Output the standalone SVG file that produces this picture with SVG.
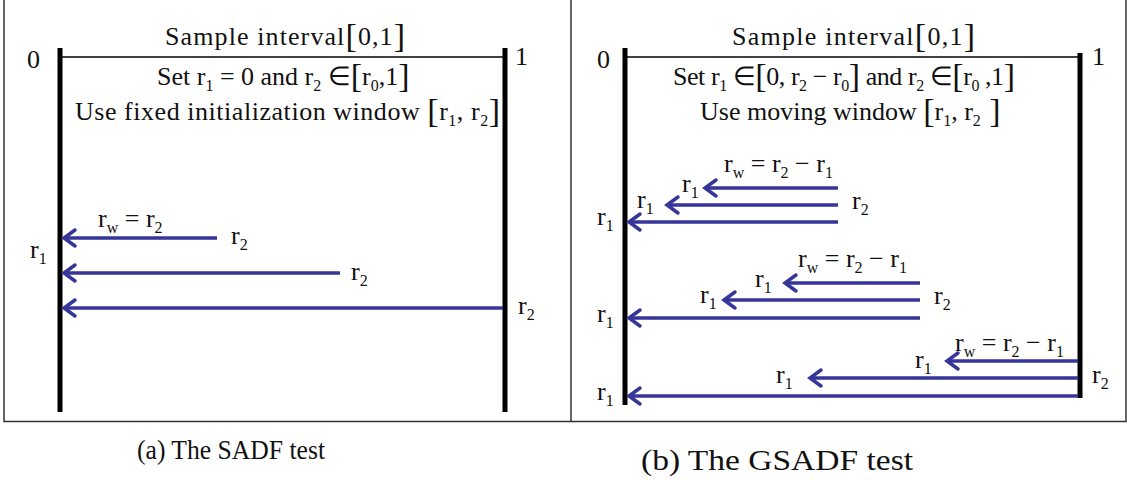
<svg xmlns="http://www.w3.org/2000/svg" width="1127" height="480" viewBox="0 0 1127 480">
<defs>
<style>
.t{font-family:"Liberation Serif","Times New Roman",serif;font-size:26px;fill:#111}
.s{font-size:16px}
.b{font-size:34px;font-weight:300}
.cap{font-family:"Liberation Serif","Times New Roman",serif;fill:#111}
.bar{stroke:#000;stroke-width:5;fill:none}
.axis{stroke:#000;stroke-width:1.5;fill:none}
.frame{stroke:#333;stroke-width:1.5;fill:none}
.arr{stroke:#35359a;stroke-width:3.5;fill:none;marker-end:url(#ah)}
</style>
<marker id="ah" markerUnits="userSpaceOnUse" markerWidth="24" markerHeight="24" viewBox="-18 -12 24 24" refX="0" refY="0" orient="auto" overflow="visible">
<path d="M-11,-8 L0,0 L-11,8" fill="none" stroke="#35359a" stroke-width="3.5" stroke-linejoin="miter" stroke-linecap="round"/>
</marker>
</defs>
<g id="frame">
<path class="frame" d="M4,0 V421.5 H1126 V0 M571,0 V421.5"/>
</g>
<g id="panel-a">
<g id="a-axis">
<line class="axis" x1="60" y1="57" x2="505" y2="57"/>
<line class="bar" x1="60" y1="48" x2="60" y2="412"/>
<line class="bar" x1="505" y1="48" x2="505" y2="412"/>
<text class="t" x="27" y="68">0</text>
<text class="t" x="515" y="65">1</text>
</g>
<g id="a-title"><text class="t" x="165" y="45" textLength="240" lengthAdjust="spacing">Sample interval<tspan class="b" dy="2">[</tspan><tspan dy="-2">0,1</tspan><tspan class="b" dy="2">]</tspan></text></g>
<g id="a-set"><text class="t" x="157" y="85">Set r<tspan class="s" dy="6">1</tspan><tspan dy="-6"> = 0  and r</tspan><tspan class="s" dy="6">2</tspan><tspan dy="-6"> ∈</tspan><tspan class="b" dy="2">[</tspan><tspan dy="-2">r</tspan><tspan class="s" dy="6">0</tspan><tspan dy="-6">,1</tspan><tspan class="b" dy="2">]</tspan></text></g>
<g id="a-use"><text class="t" x="75" y="120" textLength="425" lengthAdjust="spacing">Use fixed initialization window <tspan class="b" dy="2">[</tspan><tspan dy="-2">r</tspan><tspan class="s" dy="6">1</tspan><tspan dy="-6">, r</tspan><tspan class="s" dy="6">2</tspan><tspan class="b" dy="-4">]</tspan></text></g>
<g id="a-labels">
<text class="t" x="98" y="227">r<tspan class="s" dy="6">w</tspan><tspan dy="-6"> = r</tspan><tspan class="s" dy="6">2</tspan></text>
<text class="t" x="231" y="244">r<tspan class="s" dy="6">2</tspan></text>
<text class="t" x="30" y="258">r<tspan class="s" dy="6">1</tspan></text>
<text class="t" x="351" y="280">r<tspan class="s" dy="6">2</tspan></text>
<text class="t" x="518" y="314">r<tspan class="s" dy="6">2</tspan></text>
</g>
</g>
<g id="panel-b">
<g id="b-axis">
<line class="axis" x1="625" y1="57" x2="1080" y2="57"/>
<line class="bar" x1="625" y1="48" x2="625" y2="405"/>
<line class="bar" x1="1080" y1="53" x2="1080" y2="398"/>
<text class="t" x="597" y="68">0</text>
<text class="t" x="1092" y="65">1</text>
</g>
<g id="b-title"><text class="t" x="732" y="45" textLength="243" lengthAdjust="spacing">Sample interval<tspan class="b" dy="2">[</tspan><tspan dy="-2">0,1</tspan><tspan class="b" dy="2">]</tspan></text></g>
<g id="b-set"><text class="t" x="673" y="85" textLength="342" lengthAdjust="spacing">Set r<tspan class="s" dy="6">1</tspan><tspan dy="-6"> ∈</tspan><tspan class="b" dy="2">[</tspan><tspan dy="-2">0, r</tspan><tspan class="s" dy="6">2</tspan><tspan dy="-6"> − r</tspan><tspan class="s" dy="6">0</tspan><tspan class="b" dy="-4">]</tspan><tspan dy="-2"> and r</tspan><tspan class="s" dy="6">2</tspan><tspan dy="-6"> ∈</tspan><tspan class="b" dy="2">[</tspan><tspan dy="-2">r</tspan><tspan class="s" dy="6">0</tspan><tspan dy="-6"> ,1</tspan><tspan class="b" dy="2">]</tspan></text></g>
<g id="b-use"><text class="t" x="700" y="120">Use moving window <tspan class="b" dy="2">[</tspan><tspan dy="-2">r</tspan><tspan class="s" dy="6">1</tspan><tspan dy="-6">, r</tspan><tspan class="s" dy="6">2</tspan><tspan class="b" dy="-4"> ]</tspan></text></g>
<g id="b-group1">
<text class="t" x="724" y="172">r<tspan class="s" dy="6">w</tspan><tspan dy="-6"> = r</tspan><tspan class="s" dy="6">2</tspan><tspan dy="-6"> − r</tspan><tspan class="s" dy="6">1</tspan></text>
<text class="t" x="682" y="192">r<tspan class="s" dy="6">1</tspan></text>
<text class="t" x="637" y="208">r<tspan class="s" dy="6">1</tspan></text>
<text class="t" x="852" y="209">r<tspan class="s" dy="6">2</tspan></text>
<text class="t" x="597" y="225">r<tspan class="s" dy="6">1</tspan></text>
</g>
<g id="b-group2">
<text class="t" x="798" y="267">r<tspan class="s" dy="6">w</tspan><tspan dy="-6"> = r</tspan><tspan class="s" dy="6">2</tspan><tspan dy="-6"> − r</tspan><tspan class="s" dy="6">1</tspan></text>
<text class="t" x="755" y="287">r<tspan class="s" dy="6">1</tspan></text>
<text class="t" x="700" y="303">r<tspan class="s" dy="6">1</tspan></text>
<text class="t" x="934" y="304">r<tspan class="s" dy="6">2</tspan></text>
<text class="t" x="597" y="322">r<tspan class="s" dy="6">1</tspan></text>
</g>
<g id="b-group3">
<text class="t" x="955" y="351">r<tspan class="s" dy="6">w</tspan><tspan dy="-6"> = r</tspan><tspan class="s" dy="6">2</tspan><tspan dy="-6"> − r</tspan><tspan class="s" dy="6">1</tspan></text>
<text class="t" x="915" y="368">r<tspan class="s" dy="6">1</tspan></text>
<text class="t" x="776" y="383">r<tspan class="s" dy="6">1</tspan></text>
<text class="t" x="1092" y="383">r<tspan class="s" dy="6">2</tspan></text>
<text class="t" x="597" y="400">r<tspan class="s" dy="6">1</tspan></text>
</g>
</g>
<g id="connectors">
<line class="arr" x1="217" y1="238" x2="64" y2="238"/>
<line class="arr" x1="340" y1="273" x2="64" y2="273"/>
<line class="arr" x1="503" y1="308" x2="64" y2="308"/>
<line class="arr" x1="838" y1="188" x2="705" y2="188"/>
<line class="arr" x1="838" y1="205" x2="667" y2="205"/>
<line class="arr" x1="838" y1="222" x2="629" y2="222"/>
<line class="arr" x1="920" y1="283" x2="785" y2="283"/>
<line class="arr" x1="920" y1="300" x2="724" y2="300"/>
<line class="arr" x1="920" y1="318" x2="629" y2="318"/>
<line class="arr" x1="1078" y1="361" x2="947" y2="361"/>
<line class="arr" x1="1078" y1="378" x2="810" y2="378"/>
<line class="arr" x1="1078" y1="396" x2="629" y2="396"/>
</g>
<g id="captions">
<text class="cap" x="137" y="459" font-size="27" textLength="188" lengthAdjust="spacingAndGlyphs">(a) The SADF test</text>
<text class="cap" x="641" y="470" font-size="30" textLength="272" lengthAdjust="spacingAndGlyphs">(b) The GSADF test</text>
</g>
</svg>
